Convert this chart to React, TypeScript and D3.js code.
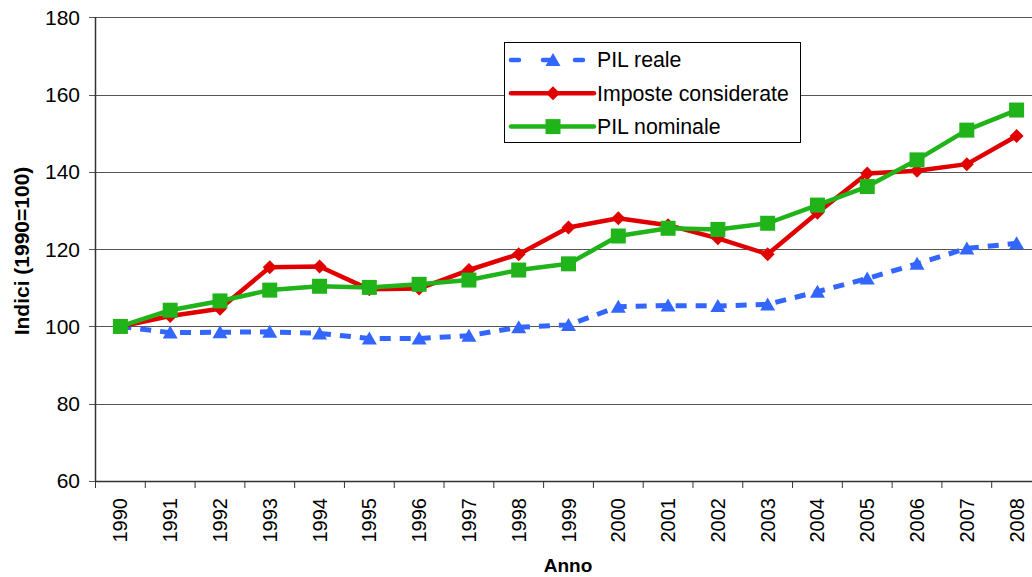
import React from 'react';
import * as d3 from 'd3';

const years = ['1990', '1991', '1992', '1993', '1994', '1995', '1996', '1997', '1998', '1999',
  '2000', '2001', '2002', '2003', '2004', '2005', '2006', '2007', '2008'];
const pilReale = [100, 98.4, 98.5, 98.6, 98.2, 96.9, 96.9, 97.6, 99.8, 100.4,
  105.1, 105.4, 105.3, 105.7, 109.0, 112.4, 116.2, 120.2, 121.5];
const imposte = [100, 102.7, 104.6, 115.3, 115.5, 109.6, 109.8, 114.6, 118.7, 125.6,
  128.0, 126.2, 122.8, 118.7, 129.4, 139.6, 140.3, 142.0, 149.3];
const pilNominale = [100, 104.2, 106.6, 109.4, 110.4, 110.1, 110.9, 112.0, 114.6, 116.2,
  123.4, 125.4, 125.1, 126.7, 131.4, 136.2, 143.1, 150.8, 156.0];
const yTicks = [60, 80, 100, 120, 140, 160, 180];

const W = 1032;
const H = 577;
const font = 'Liberation Sans, Arial, sans-serif';

const BLUE = '#3366ff';
const RED = '#e00000';
const GREEN = '#20b31a';

const App: React.FC = () => {
  const x = d3.scaleBand<string>().domain(years).range([95.5, 1041.5]).padding(0);
  const y = d3.scaleLinear().domain([60, 180]).range([481, 17.3]);
  const cx = (yr: string) => (x(yr) as number) + x.bandwidth() / 2;

  const line = d3.line<number>()
    .x((_, i) => cx(years[i]))
    .y((d) => y(d));

  const tri = 'M0,-7L7.5,6L-7.5,6Z';
  const dia = 'M0,-7L7,0L0,7L-7,0Z';

  const legendRows = [
    { name: 'PIL reale', color: BLUE, kind: 'tri' },
    { name: 'Imposte considerate', color: RED, kind: 'dia' },
    { name: 'PIL nominale', color: GREEN, kind: 'sq' },
  ];

  const marker = (kind: string, color: string, px: number, py: number, key?: string | number) => {
    if (kind === 'tri') return <path key={key} d={tri} transform={`translate(${px},${py})`} fill={color} />;
    if (kind === 'dia') return <path key={key} d={dia} transform={`translate(${px},${py})`} fill={color} />;
    return <rect key={key} x={px - 7.5} y={py - 7.5} width={15} height={15} fill={color} />;
  };

  return (
    <svg width={W} height={H} style={{ position: 'absolute', left: 0, top: 0, background: '#fff' }}
      fontFamily={font}>
      {/* grid */}
      {yTicks.map((t) => (
        <g key={t}>
          <line x1={89} x2={W} y1={Math.round(y(t)) + 0.5} y2={Math.round(y(t)) + 0.5} stroke="#555" strokeWidth={1} />
          <text x={80} y={y(t)} dy="0.35em" textAnchor="end" fontSize={21} fill="#000">{t}</text>
        </g>
      ))}
      {/* axes */}
      <line x1={95.5} x2={95.5} y1={17} y2={481} stroke="#333" strokeWidth={1.5} />
      <line x1={95.5} x2={W} y1={481.5} y2={481.5} stroke="#333" strokeWidth={1.5} />
      {years.map((yr) => (
        <line key={'t' + yr} x1={x(yr)} x2={x(yr)} y1={481} y2={488} stroke="#333" strokeWidth={1} />
      ))}
      {years.map((yr) => (
        <text key={'l' + yr} transform={`translate(${cx(yr) + 7},498) rotate(-90)`} textAnchor="end"
          fontSize={20} fill="#000">{yr}</text>
      ))}

      {/* series */}
      <path d={line(pilReale) as string} fill="none" stroke={BLUE} strokeWidth={5} strokeDasharray="11,9" />
      {pilReale.map((v, i) => marker('tri', BLUE, cx(years[i]), y(v), 'b' + i))}
      <path d={line(imposte) as string} fill="none" stroke={RED} strokeWidth={4.5} strokeLinejoin="round" />
      {imposte.map((v, i) => marker('dia', RED, cx(years[i]), y(v), 'r' + i))}
      <path d={line(pilNominale) as string} fill="none" stroke={GREEN} strokeWidth={4.5} strokeLinejoin="round" />
      {pilNominale.map((v, i) => marker('sq', GREEN, cx(years[i]), y(v), 'g' + i))}

      {/* legend */}
      <rect x={504.5} y={42.5} width={296} height={100} fill="#fff" stroke="#000" strokeWidth={1} />
      {legendRows.map((r, i) => {
        const ly = 60 + i * 33.3;
        return (
          <g key={r.name}>
            <line x1={511} x2={594} y1={ly} y2={ly} stroke={r.color} strokeWidth={4.5}
              strokeDasharray={r.kind === 'tri' ? '8,24' : undefined} strokeLinecap="round" />
            {marker(r.kind, r.color, 553, ly)}
            <text x={597} y={ly} dy="0.35em" fontSize={21.3} fill="#000">{r.name}</text>
          </g>
        );
      })}

      {/* axis titles */}
      <text x={568} y={572} textAnchor="middle" fontSize={19} fontWeight="bold">Anno</text>
      <text transform="translate(29,251) rotate(-90)" textAnchor="middle" fontSize={21} fontWeight="bold">Indici (1990=100)</text>
    </svg>
  );
};

export default App;
